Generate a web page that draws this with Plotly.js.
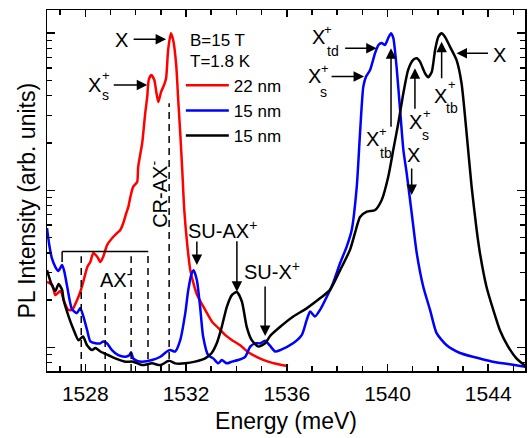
<!DOCTYPE html>
<html><head><meta charset="utf-8">
<script src="https://cdn.plot.ly/plotly-3.0.1.min.js"></script>
<style>html,body{margin:0;padding:0;background:#fff}#chart{width:532px;height:438px}</style>
</head><body><div id="chart"></div>
<script>
// 22 nm (red)
const energy22 = [1526.48,1526.69,1526.81,1527.01,1527.17,1527.33,1527.48,1527.64,1527.80,1527.92,1528.08,1528.20,1528.32,1528.48,1528.60,1528.71,1528.87,1529.07,1529.27,1529.39,1529.51,1529.63,1529.71,1529.79,1529.90,1530.06,1530.10,1530.26,1530.38,1530.46,1530.52,1530.62,1530.74,1530.82,1530.90,1531.01,1531.13,1531.21,1531.29,1531.40,1531.49,1531.61,1531.69,1531.77,1531.85,1531.93,1532.05,1532.17,1532.28,1532.44,1532.76,1533.04,1533.28,1533.55,1533.83,1534.15,1534.47,1534.86,1535.26,1535.66,1536.05];
const intensity22 = [0.0261,0.0249,0.0215,0.0228,0.0194,0.0173,0.0173,0.0194,0.0225,0.0261,0.0325,0.0349,0.0399,0.0376,0.0349,0.0376,0.0449,0.0497,0.0535,0.0559,0.0619,0.0717,0.0783,0.0906,0.105,0.113,0.141,0.200,0.310,0.393,0.504,0.542,0.504,0.423,0.365,0.423,0.469,0.519,0.783,1.0,0.906,0.628,0.376,0.232,0.135,0.0750,0.0449,0.031,0.0261,0.0215,0.0173,0.0145,0.0133,0.0120,0.0111,0.0103,0.0093,0.0086,0.0081,0.0078,0.0076];
// 15 nm (blue)
const energy15a = [1526.48,1526.57,1526.67,1526.81,1526.93,1527.08,1527.17,1527.29,1527.47,1527.67,1527.80,1527.93,1528.07,1528.20,1528.40,1528.60,1528.71,1528.86,1529.06,1529.31,1529.59,1529.75,1529.82,1529.90,1530.06,1530.25,1530.65,1530.98,1531.24,1531.37,1531.57,1531.77,1531.97,1532.09,1532.23,1532.30,1532.43,1532.56,1532.68,1532.88,1533.08,1533.28,1533.42,1533.62,1533.82,1534.07,1534.35,1534.55,1534.74,1534.94,1535.14,1535.34,1535.54,1535.74,1536.25,1536.60,1536.79,1536.93,1537.12,1537.32,1537.59,1537.84,1538.12,1538.38,1538.58,1538.78,1538.91,1539.04,1539.15,1539.31,1539.51,1539.64,1539.77,1539.90,1540.03,1540.14,1540.23,1540.36,1540.50,1540.63,1540.76,1540.96,1541.16,1541.42,1541.69,1541.95,1542.35,1542.88,1543.39,1544.18,1544.86,1545.52];
const intensity15a = [0.0574,0.0448,0.0371,0.0325,0.0306,0.0334,0.0302,0.0239,0.0175,0.0165,0.0178,0.0156,0.0129,0.0109,0.0106,0.0106,0.0109,0.0106,0.0096,0.0089,0.0087,0.0089,0.0093,0.0085,0.0082,0.0081,0.0083,0.0087,0.0094,0.0096,0.0094,0.0111,0.0165,0.0232,0.0297,0.0310,0.0268,0.0181,0.0117,0.0089,0.0085,0.0079,0.0083,0.0079,0.0081,0.0083,0.0087,0.0101,0.0106,0.0106,0.0110,0.0102,0.0094,0.0096,0.0106,0.0120,0.0149,0.0169,0.0157,0.0173,0.0210,0.0257,0.0344,0.0438,0.0559,0.1054,0.232,0.457,0.530,0.584,0.749,0.842,0.867,0.842,0.933,1.0,0.933,0.612,0.325,0.181,0.129,0.0717,0.0399,0.0243,0.0173,0.0123,0.0103,0.0092,0.0087,0.0081,0.0078,0.0075];
// 15 nm (black)
const energy15b = [1526.48,1526.67,1526.81,1526.94,1527.08,1527.14,1527.34,1527.54,1527.73,1527.91,1528.07,1528.27,1528.40,1528.60,1528.92,1529.19,1529.59,1529.90,1530.25,1530.65,1530.98,1531.33,1531.57,1531.97,1532.36,1532.76,1533.02,1533.22,1533.42,1533.62,1533.82,1534.02,1534.22,1534.41,1534.61,1534.87,1535.14,1535.34,1535.74,1536.26,1536.79,1537.32,1537.72,1538.12,1538.51,1538.71,1538.91,1539.18,1539.51,1539.77,1540.03,1540.23,1540.43,1540.63,1540.82,1541.02,1541.16,1541.29,1541.49,1541.62,1541.76,1541.89,1542.02,1542.15,1542.28,1542.48,1542.74,1542.94,1543.14,1543.34,1543.54,1543.67,1543.93,1544.20,1544.46,1544.79,1545.12,1545.52];
const intensity15b = [0.0310,0.0249,0.0228,0.0253,0.0232,0.0200,0.0157,0.0129,0.0111,0.0117,0.0103,0.0096,0.0099,0.0094,0.0089,0.0085,0.0081,0.0081,0.0077,0.0079,0.0077,0.0082,0.0079,0.0079,0.0081,0.0085,0.0092,0.0106,0.0135,0.0181,0.0215,0.0225,0.0195,0.0135,0.0111,0.0101,0.0106,0.0118,0.0135,0.0157,0.0177,0.0205,0.0232,0.0310,0.0417,0.0535,0.0676,0.0731,0.0749,0.0867,0.122,0.181,0.268,0.415,0.584,0.676,0.693,0.659,0.556,0.525,0.569,0.783,0.951,1.0,0.951,0.822,0.676,0.480,0.232,0.1054,0.0559,0.0399,0.0243,0.0173,0.0129,0.0101,0.0085,0.0075];

const seriesNames = ['22 nm','15 nm','15 nm'];
const seriesColors = ['#ff0000','#0000ff','#000000'];
const xTickVals = [1528,1532,1536,1540,1544];
const xMinorVals = [1527,1529,1530,1531,1533,1534,1535,1537,1538,1539,1541,1542,1543,1545];
const yTickVals = [0.01,0.1,1];
const yMinorVals = [0.008,0.009,0.02,0.03,0.04,0.05,0.06,0.07,0.08,0.09,0.2,0.3,0.4,0.5,0.6,0.7,0.8,0.9];

const F = '"Liberation Sans", Arial, sans-serif';
const traces = [
  {x: energy22, y: intensity22},
  {x: energy15a, y: intensity15a},
  {x: energy15b, y: intensity15b}
].map((d,i)=>({x:d.x, y:d.y, type:'scatter', mode:'lines', name:seriesNames[i],
  line:{color:seriesColors[i], width:2.5, shape:'spline', smoothing:0.6}}));

function txt(t,x,y,size,extra){return Object.assign({text:t,x:x,y:y,xref:'x',yref:'y',showarrow:false,
  font:{family:F,size:size,color:'#000'},xanchor:'center',yanchor:'middle'},extra||{});}
function arr(x,y,ax,ay){return {text:'',x:x,y:y,xref:'x',yref:'y',showarrow:true,ax:ax,ay:ay,
  axref:'pixel',ayref:'pixel',arrowhead:2,arrowsize:1.4,arrowwidth:1.5,arrowcolor:'#000'};}

const annotations = [
  {text:'PL Intensity (arb. units)',xref:'paper',yref:'paper',x:-0.042,y:0.472,showarrow:false,textangle:-90,
   xanchor:'center',yanchor:'middle',font:{family:F,size:23,color:'#000'}},
  txt('B=15 T',1532.08,-0.049,17,{xanchor:'left'}),
  txt('T=1.8 K',1532.08,-0.181,17,{xanchor:'left'}),
  txt('X',1529.42,-0.043,20), arr(1531.21,-0.038,-34,0),
  txt('X',1528.36,-0.332,20), txt('+',1528.83,-0.266,13), txt('s',1528.79,-0.393,14), arr(1530.46,-0.329,-35,0),
  txt('X',1537.28,-0.027,20), txt('+',1537.65,0.025,13), txt('td',1537.82,-0.113,14), arr(1539.57,-0.096,-33,0),
  txt('X',1537.09,-0.271,20), txt('+',1537.52,-0.223,13), txt('s',1537.45,-0.372,14), arr(1539.07,-0.276,-34,0),
  txt('X',1539.40,-0.673,20), txt('+',1539.83,-0.627,13), txt('tb',1539.93,-0.764,14), arr(1540.14,-0.096,0,80),
  txt('X',1541.12,-0.568,20), txt('+',1541.55,-0.510,13), txt('s',1541.49,-0.648,14), arr(1541.09,-0.223,0,42),
  txt('X',1541.02,-0.775,20), arr(1540.96,-1.030,0,-28),
  txt('X',1542.11,-0.398,20), txt('+',1542.55,-0.329,13), txt('tb',1542.55,-0.473,14), arr(1542.15,-0.054,0,38),
  txt('X',1544.43,-0.138,20), arr(1542.74,-0.127,33,0),
  txt('CR-AX<sup>-</sup>',1530.88,-1.024,20,{textangle:-90}),
  txt('SU-AX<sup>+</sup>',1533.43,-1.253,20), arr(1532.43,-1.476,0,-25), arr(1534.02,-1.646,0,-52),
  txt('SU-X<sup>+</sup>',1535.42,-1.508,20), arr(1535.14,-1.928,0,-51),
  txt('AX<sup>-</sup>',1529.23,-1.565,20)
];

const dashLine = {color:'#000',width:1.5,dash:'7px,5px'};
const solid = {color:'#000',width:1.5};
function vl(x,top,line){return {type:'line',xref:'x',yref:'paper',x0:x,x1:x,y0:0,y1:top,line:line,layer:'above'};}
const shapes = [
  vl(1527.84,0.318,dashLine), vl(1528.79,0.216,dashLine), vl(1529.82,0.318,dashLine),
  vl(1530.49,0.331,dashLine), vl(1531.33,0.742,dashLine),
  {type:'line',xref:'x',yref:'paper',x0:1527.08,x1:1530.50,y0:0.331,y1:0.331,line:solid,layer:'above'},
  {type:'line',xref:'x',yref:'paper',x0:1527.08,x1:1527.08,y0:0.331,y1:0.302,line:solid,layer:'above'}
];

const layout = {
  width:532, height:438,
  margin:{l:47,r:7,t:10,b:67},
  paper_bgcolor:'#fff', plot_bgcolor:'#fff',
  font:{family:F,color:'#000'},
  showlegend:true,
  legend:{x:0.28,y:0.840,xanchor:'left',yanchor:'top',bgcolor:'rgba(0,0,0,0)',
    font:{family:F,size:17,color:'#000'},itemwidth:43,tracegroupgap:0},
  xaxis:{range:[1526.48,1545.46],showgrid:false,zeroline:false,showline:true,linecolor:'#000',linewidth:1.5,
    mirror:'ticks',ticks:'inside',ticklen:7,tickwidth:1.5,tickcolor:'#000',
    tickmode:'array',tickvals:xTickVals,ticktext:xTickVals.map(String),ticklabelstandoff:3,
    tickfont:{family:F,size:21,color:'#000'},
    minor:{tickmode:'array',tickvals:xMinorVals,ticks:'inside',ticklen:5,tickwidth:1.5,tickcolor:'#000',showgrid:false},
    title:{text:'Energy (meV)',font:{family:F,size:23,color:'#000'},standoff:9}},
  yaxis:{type:'log',range:[-2.151,0.148],showgrid:false,zeroline:false,showline:true,linecolor:'#000',linewidth:1.5,
    mirror:'ticks',ticks:'inside',ticklen:8,tickwidth:1.5,tickcolor:'#000',showticklabels:false,
    tickmode:'array',tickvals:yTickVals,
    minor:{tickmode:'array',tickvals:yMinorVals,ticks:'inside',ticklen:5,tickwidth:1.5,tickcolor:'#000',showgrid:false}},
  annotations:annotations,
  shapes:shapes
};
Plotly.newPlot('chart',traces,layout,{displayModeBar:false,staticPlot:true});
</script></body></html>
